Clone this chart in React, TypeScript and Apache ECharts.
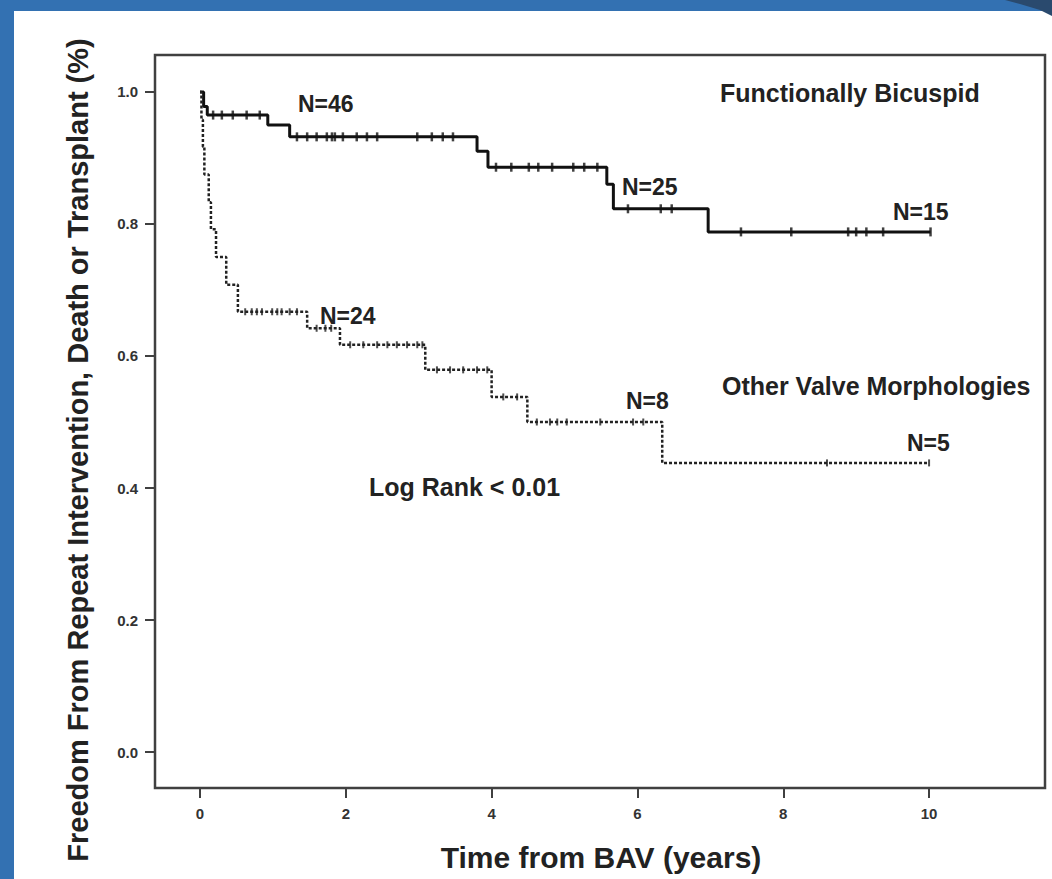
import React, { useEffect, useRef } from "react";
import * as echarts from "echarts";

const xTicks = [0, 2, 4, 6, 8, 10];
const yTicks = [0, 0.2, 0.4, 0.6, 0.8, 1.0];

// Functionally Bicuspid (solid)
const bicuspidTimes = [0, 0.05, 0.1, 0.93, 1.23, 3.8, 3.95, 5.58, 5.67, 6.97, 10.02];
const bicuspidSurv = [1, 0.978, 0.965, 0.95, 0.932, 0.91, 0.886, 0.86, 0.823, 0.788, 0.788];
const bicuspidCensored = [
  0.18, 0.3, 0.45, 0.64, 0.82, 1.33, 1.47, 1.6, 1.74, 1.81, 1.85, 1.96, 2.15, 2.29, 2.43,
  2.98, 3.18, 3.33, 3.47, 4.06, 4.27, 4.51, 4.64, 4.83, 5.12, 5.27, 5.45, 5.87, 6.32, 6.47,
  7.42, 8.11, 8.89, 9.0, 9.14, 9.37, 10.02,
];

// Other Valve Morphologies (dotted)
const otherTimes = [0, 0.02, 0.04, 0.06, 0.12, 0.15, 0.22, 0.36, 0.52, 1.47, 1.92, 3.09, 4.0, 4.49, 6.34, 10.0];
const otherSurv = [1, 0.958, 0.917, 0.875, 0.833, 0.792, 0.75, 0.708, 0.667, 0.642, 0.617, 0.579, 0.538, 0.5, 0.438, 0.438];
const otherCensored = [
  0.62, 0.71, 0.78, 0.85, 0.99, 1.06, 1.12, 1.23, 1.33, 1.6, 1.72, 1.8, 2.06, 2.24, 2.43,
  2.57, 2.7, 2.84, 2.98, 3.05, 3.25, 3.43, 3.61, 3.8, 3.94, 4.16, 4.35, 4.62, 4.8, 4.9,
  5.03, 5.49, 5.94, 6.08, 8.6, 10.0,
];

const FONT = "'Liberation Sans', Arial, Helvetica, sans-serif";

function stepValue(times: number[], surv: number[], t: number): number {
  let v = surv[0];
  for (let i = 0; i < times.length; i++) {
    if (times[i] <= t) v = surv[i];
  }
  return v;
}

function pairs(times: number[], surv: number[]) {
  return times.map((t, i) => [t, surv[i]]);
}

function censorPairs(cens: number[], times: number[], surv: number[]) {
  return cens.map((t) => [t, stepValue(times, surv, t)]);
}

export default function App() {
  const ref = useRef<HTMLDivElement>(null);

  useEffect(() => {
    if (!ref.current) return;
    const chart = echarts.init(ref.current, undefined, { renderer: "svg" });

    const txt = (text: string, x: number, y: number, size: number) => ({
      type: "text",
      x,
      y,
      style: {
        text,
        fill: "#222",
        font: `bold ${size}px ${FONT}`,
        verticalAlign: "middle",
      },
      z: 10,
    });

    chart.setOption({
      animation: false,
      backgroundColor: "#ffffff",
      grid: {
        left: 155,
        right: 7,
        top: 55,
        bottom: 91,
        show: true,
        borderColor: "#404040",
        borderWidth: 2.5,
        backgroundColor: "transparent",
      },
      xAxis: {
        type: "value",
        min: -0.617,
        max: 11.59,
        splitLine: { show: false },
        axisLine: { show: false, onZero: false },
        axisTick: {
          show: true,
          length: 10,
          customValues: xTicks,
          lineStyle: { color: "#404040", width: 2 },
        },
        axisLabel: {
          customValues: xTicks,
          margin: 18,
          fontSize: 15,
          fontWeight: "bold",
          fontFamily: FONT,
          color: "#333",
          formatter: (v: number) => String(v),
        },
      },
      yAxis: {
        type: "value",
        min: -0.0545,
        max: 1.056,
        splitLine: { show: false },
        axisLine: { show: false, onZero: false },
        axisTick: {
          show: true,
          length: 10,
          customValues: yTicks,
          lineStyle: { color: "#404040", width: 2 },
        },
        axisLabel: {
          customValues: yTicks,
          margin: 17,
          fontSize: 15,
          fontWeight: "bold",
          fontFamily: FONT,
          color: "#333",
          formatter: (v: number) => v.toFixed(1),
        },
      },
      series: [
        {
          type: "line",
          name: "Functionally Bicuspid",
          step: "end",
          data: pairs(bicuspidTimes, bicuspidSurv),
          showSymbol: false,
          lineStyle: { color: "#111", width: 3 },
          z: 3,
        },
        {
          type: "scatter",
          data: censorPairs(bicuspidCensored, bicuspidTimes, bicuspidSurv),
          symbol: "rect",
          symbolSize: [2.5, 9],
          itemStyle: { color: "#111" },
          z: 4,
        },
        {
          type: "line",
          name: "Other Valve Morphologies",
          step: "end",
          data: pairs(otherTimes, otherSurv),
          showSymbol: false,
          lineStyle: { color: "#222", width: 2.5, type: [3, 2] },
          z: 3,
        },
        {
          type: "scatter",
          data: censorPairs(otherCensored, otherTimes, otherSurv),
          symbol: "rect",
          symbolSize: [2, 7],
          itemStyle: { color: "#222" },
          z: 4,
        },
      ],
      graphic: [
        { type: "rect", shape: { x: 0, y: 0, width: 1052, height: 11 }, style: { fill: "#3371b2" }, z: 20 },
        { type: "rect", shape: { x: 0, y: 0, width: 14, height: 879 }, style: { fill: "#3371b2" }, z: 20 },
        {
          type: "polygon",
          shape: { points: [[1005, 0], [1052, 0], [1052, 16], [1040, 10], [1020, 4]] },
          style: { fill: "#2a4a6e" },
          z: 21,
        },
        {
          type: "text",
          x: 78,
          y: 450,
          rotation: Math.PI / 2,
          style: {
            text: "Freedom From Repeat Intervention, Death or Transplant (%)",
            fill: "#222",
            font: `bold 29px ${FONT}`,
            align: "center",
            verticalAlign: "middle",
          },
          z: 10,
        },
        {
          type: "text",
          x: 601,
          y: 857,
          style: {
            text: "Time from BAV (years)",
            fill: "#222",
            font: `bold 30px ${FONT}`,
            align: "center",
            verticalAlign: "middle",
          },
          z: 10,
        },
        txt("Functionally Bicuspid", 720, 93, 25),
        txt("Other Valve Morphologies", 722, 386, 25),
        txt("Log Rank < 0.01", 369, 487, 25),
        txt("N=46", 298, 104, 23),
        txt("N=25", 622, 187, 23),
        txt("N=15", 893, 212, 23),
        txt("N=24", 320, 316, 23),
        txt("N=8", 626, 401, 23),
        txt("N=5", 907, 443, 23),
      ],
    });

    return () => chart.dispose();
  }, []);

  return (
    <div
      ref={ref}
      style={{ position: "fixed", left: 0, top: 0, width: 1052, height: 879 }}
    />
  );
}
